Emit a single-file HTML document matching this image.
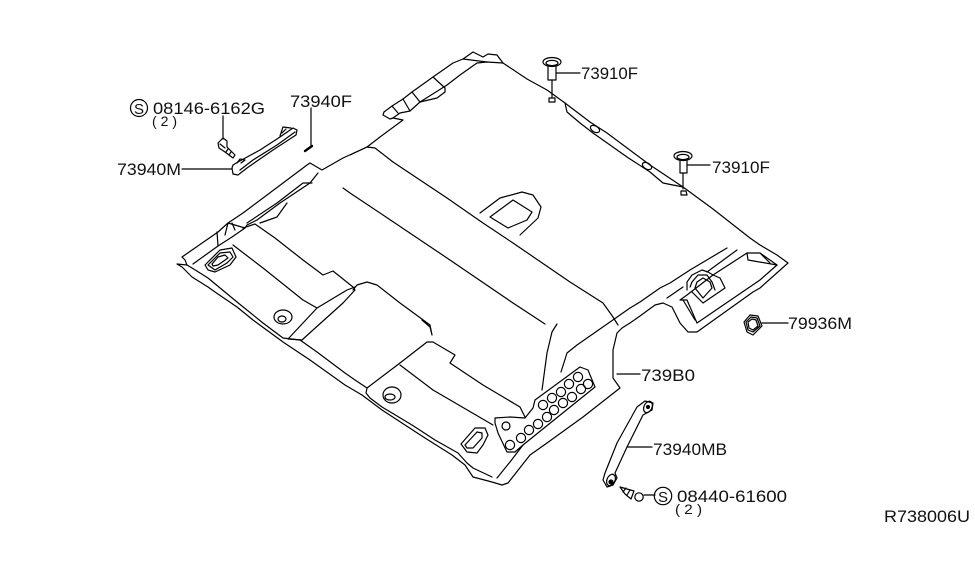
<!DOCTYPE html>
<html><head><meta charset="utf-8"><style>
html,body{margin:0;padding:0;background:#fff;width:975px;height:566px;overflow:hidden}
svg{display:block}
polyline,polygon,path,ellipse,circle,line{fill:none;stroke:#000;stroke-width:1.2;stroke-linejoin:round;stroke-linecap:round}
text{font-family:"Liberation Sans",sans-serif;font-size:17px;fill:#111;stroke:none}
</style></head><body>
<svg width="975" height="566" viewBox="0 0 975 566" xmlns="http://www.w3.org/2000/svg">
<!-- outer rear / right edge -->
<polyline points="384,112 392,106 403,99 412,92 433,77 453,63 463,59 473,52 483,57 488,54 497,55 503,63 527,79 547,90 565,103 590,122 607,133 650,165 683,187 713,209 727,220 750,238 760,245 777,255 788,263 760,288 753,292 697,332 688,332 680,323 672,307 663,303 655,305 640,316 630,323 622,328 617,333 613,350 613,378 620,388 583,417 547,443 530,455 508,483 502,485 492,482 473,477 465,465 452,455 425,438 405,425 382,410 362,395 345,385 310,360 283,342 253,320 237,307 215,292 208,287 192,277 182,267 177,264 187,265 185,260 182,257 218,232 228,223 245,228"/>
<polyline points="384,112 383,115 390,119 393,118 403,120 380,137 367,147 343,158 322,170 310,163 307,165 243,213 228,223"/>
<!-- upper bottom edge -->
<polyline points="187,265 192,268 208,278 237,302 263,323 283,338 300,340 317,352 337,367 345,373 355,380 367,388 366,393 370,398 382,407 412,425 435,440 458,453 467,463 473,468 492,477"/>
<!-- top band -->
<polyline points="392,106 398,113"/><polyline points="403,99 410,111"/><polyline points="412,92 420,102"/><polyline points="433,77 445,88"/>
<polyline points="393,118 400,113 410,111 420,102 447,85 460,75 477,63 487,62 503,63"/>
<polyline points="420,102 437,98 445,92 445,88"/>
<polyline points="463,59 487,62"/>
<!-- side band rear -->
<polyline points="565,103 567,112 580,123 593,133 627,157 650,172 663,183 683,187"/>
<ellipse cx="595" cy="129" rx="5" ry="3" transform="rotate(30 595 129)"/>
<ellipse cx="647" cy="166" rx="5" ry="3" transform="rotate(30 647 166)"/>
<!-- long roof lines -->
<polyline points="350,155 367,147 375,148 393,162 447,198 483,223 513,243 570,282 603,303 613,317 618,325"/>
<polyline points="343,188 350,193 383,215 447,258 513,303 545,324"/>
<polyline points="480,213 500,198 522,192 533,195 541,207 538,218 520,235"/>
<polygon points="490,217 513,200 532,212 527,220 508,228"/>
<!-- left bands -->
<polyline points="193,264 218,246 232,237 245,228 247,225 257,220 280,203 310,183 318,173"/>
<polyline points="247,223 277,203 303,183 312,183"/>
<polyline points="260,223 277,217 287,203"/>
<polyline points="217,232 218,246"/><polyline points="228,223 225,235"/><polyline points="232,223 235,230"/>
<polyline points="243,228 255,224 275,238 303,260 323,275 333,271 353,287 355,290 343,303 313,330 302,340 288,339 317,308 347,290 355,287"/>
<polyline points="233,245 263,268 303,300 317,308"/>
<polygon points="205,265 220,250 232,248 236,257 230,265 215,272 208,270"/>
<polygon points="208,265 220,253 230,252 233,257 227,263 215,270"/>
<polygon points="212,264 218,257 225,255 228,258 218,265 213,266"/>
<ellipse cx="283" cy="317" rx="9" ry="7"/><ellipse cx="282" cy="319" rx="4" ry="3"/>
<!-- centre panel -->
<polyline points="353,290 357,285 367,282 377,285 400,303 430,325 432,335 430,327 422,320"/>
<polyline points="367,388 400,363 427,342 433,342 455,355 450,363 483,385 520,407 525,417"/>
<polyline points="400,365 433,390 493,425"/>
<ellipse cx="392" cy="395" rx="9" ry="8"/><ellipse cx="390" cy="397" rx="5" ry="3"/>
<polygon points="461,444 475,428 485,428 488,435 483,445 477,453 467,452"/>
<polygon points="465,445 477,432 482,433 482,438 473,448 467,448"/>
<polyline points="497,478 510,462 523,445"/>
<!-- perforated panel -->
<polygon points="495,418 510,417 525,418 533,408 535,400 580,367 588,370 595,387 523,445 515,452 507,452 498,433 495,423"/>
<g>
<circle cx="578" cy="377" r="4.6"/><circle cx="588" cy="384" r="4.6"/><circle cx="569" cy="384" r="4.6"/><circle cx="581" cy="389" r="4.6"/><circle cx="561" cy="392" r="4.6"/><circle cx="572" cy="397" r="4.6"/><circle cx="552" cy="398" r="4.6"/><circle cx="563" cy="403" r="4.6"/><circle cx="543" cy="405" r="4.6"/><circle cx="554" cy="410" r="4.6"/><circle cx="547" cy="417" r="4.6"/><circle cx="538" cy="424" r="4.6"/><circle cx="529" cy="430" r="4.6"/><circle cx="521" cy="438" r="4.6"/><circle cx="510" cy="445" r="4.6"/><circle cx="506" cy="426" r="4"/>
</g>
<polyline points="542,390 547,353 552,332 557,324"/>
<polyline points="561,372 567,353 577,345 610,322 630,308 640,302 660,288 670,283 690,270 727,248"/>
<polyline points="667,298 683,287"/><polyline points="707,272 737,250"/>
<!-- right rear -->
<polygon points="713,275 747,253 760,253 777,265 760,280 697,323 687,300 680,300 687,295"/>
<polyline points="747,253 748,260 777,265"/><polyline points="760,253 770,263"/>
<polyline points="713,275 720,278 725,288 703,303 692,292"/>
<polyline points="683,300 695,320"/>
<polyline points="687,290 687,282 692,275 702,270 708,272 713,275"/>
<polyline points="690,287 692,282 698,275 707,275 712,282 715,290"/>
<polygon points="695,288 697,282 703,278 710,282 712,288 703,298"/>
<!-- 73910F clips -->
<ellipse cx="552" cy="62" rx="9" ry="4.5"/><ellipse cx="552" cy="63" rx="6" ry="2.6"/>
<polyline points="548,67 548,80 556,80 556,67"/><polyline points="552,80 552,97"/>
<polygon points="549,98 555,98 555,102 549,102"/>
<line x1="556" y1="73" x2="580" y2="73"/>
<ellipse cx="683" cy="156" rx="9" ry="4.5"/><ellipse cx="683" cy="157" rx="6" ry="2.6"/>
<polyline points="680,161 680,173 687,173 687,161"/><polyline points="683,173 683,189"/>
<polygon points="681,191 686,191 687,195 681,195"/>
<line x1="687" y1="165" x2="710" y2="165"/>
<!-- 73940M handle -->
<polygon points="232,168 233,165 238,162 260,150 280,137 293,128 297,130 296,135 273,150 247,168 238,175 233,174"/>
<polyline points="240,170 253,160 277,145 295,132"/>
<polyline points="237,163 240,159 245,160 241,163"/><polyline points="280,136 283,127 291,128"/><polyline points="282,133 286,129"/>
<polygon points="218,143 223,138 227,141 227,147 235,155 233,158 225,152 219,148"/>
<polyline points="220,144 225,148"/><polyline points="228,149 226,152"/><polyline points="231,152 229,155"/>
<line x1="223" y1="116" x2="223" y2="139"/>
<circle cx="139" cy="108" r="8.5"/>
<line x1="311" y1="108" x2="311" y2="145"/>
<line x1="305" y1="151" x2="312" y2="146" style="stroke-width:2.4"/>
<line x1="182" y1="169" x2="232" y2="169"/>
<!-- 73940MB handle -->
<polygon points="603,480 605,473 617,443 637,407 645,401 653,403 652,410 643,415 627,447 615,473 617,478 613,485 607,487"/>
<ellipse cx="648" cy="407" rx="4" ry="6" transform="rotate(25 648 407)"/>
<ellipse cx="611" cy="480" rx="4" ry="6" transform="rotate(25 611 480)"/>
<circle cx="648" cy="407" r="1.5" style="fill:#000"/><circle cx="611" cy="482" r="2" style="fill:#000"/>
<line x1="627" y1="447" x2="652" y2="447"/>
<polygon points="620,487 634,491 631,499 625,494"/>
<polyline points="626,488 623,492"/><polyline points="630,490 627,495"/>
<circle cx="639" cy="497" r="4.2"/>
<line x1="644" y1="495" x2="655" y2="495"/>
<circle cx="663" cy="496" r="8.7"/>
<!-- 79936M -->
<polygon points="744,322 750,315 758,316 762,326 753,335 747,332"/>
<polygon points="746,322 751,317 757,318 760,326 753,332 748,330"/>
<polygon points="748,322 752,319 756,320 758,326 753,330 749,328"/>
<line x1="762" y1="323" x2="788" y2="323"/>
<line x1="617" y1="374" x2="640" y2="374"/>
<!-- labels -->
<text x="134" y="114" style="font-size:15px">S</text>
<text x="658" y="502" style="font-size:15px">S</text>
<text x="153" y="114" textLength="112" lengthAdjust="spacingAndGlyphs">08146-6162G</text>
<text x="152" y="126" textLength="25" lengthAdjust="spacingAndGlyphs" style="font-size:14px">( 2 )</text>
<text x="290" y="107" textLength="62" lengthAdjust="spacingAndGlyphs">73940F</text>
<text x="117" y="175" textLength="64" lengthAdjust="spacingAndGlyphs">73940M</text>
<text x="581" y="79" textLength="57" lengthAdjust="spacingAndGlyphs">73910F</text>
<text x="712" y="173" textLength="58" lengthAdjust="spacingAndGlyphs">73910F</text>
<text x="788" y="329" textLength="64" lengthAdjust="spacingAndGlyphs">79936M</text>
<text x="641" y="381" textLength="54" lengthAdjust="spacingAndGlyphs">739B0</text>
<text x="653" y="455" textLength="74" lengthAdjust="spacingAndGlyphs">73940MB</text>
<text x="677" y="502" textLength="110" lengthAdjust="spacingAndGlyphs">08440-61600</text>
<text x="675" y="514" textLength="27" lengthAdjust="spacingAndGlyphs" style="font-size:14px">( 2 )</text>
<text x="884" y="522" textLength="86" lengthAdjust="spacingAndGlyphs">R738006U</text>
</svg>
</body></html>
